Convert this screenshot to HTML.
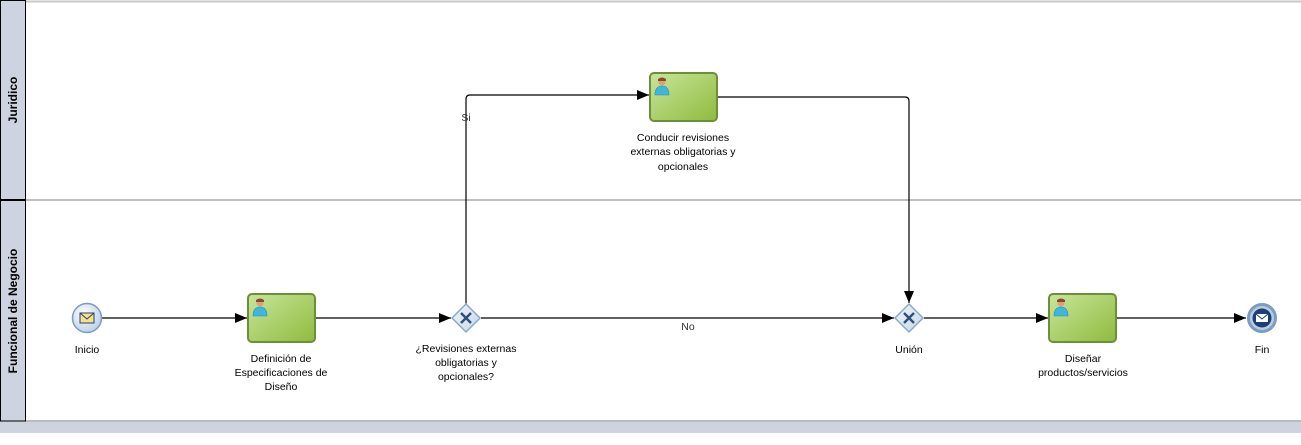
<!DOCTYPE html>
<html><head><meta charset="utf-8"><style>
html,body{margin:0;padding:0;background:#fff;}
svg{display:block;font-family:"Liberation Sans","DejaVu Sans",sans-serif;}
</style></head><body>
<svg width="1301" height="445" viewBox="0 0 1301 445" xmlns="http://www.w3.org/2000/svg">
<defs>
<linearGradient id="tg" x1="0" y1="0" x2="1" y2="1"><stop offset="0" stop-color="#c8e59a"/><stop offset="1" stop-color="#8fbb3e"/></linearGradient>
<radialGradient id="cg" cx="0.4" cy="0.35" r="0.7"><stop offset="0" stop-color="#ffffff"/><stop offset="1" stop-color="#b8cfe6"/></radialGradient>
<linearGradient id="gg" x1="0" y1="0" x2="1" y2="1"><stop offset="0" stop-color="#f0f5f9"/><stop offset="1" stop-color="#c6d8e6"/></linearGradient>
<marker id="ar" viewBox="0 0 12 10" refX="12" refY="5" markerWidth="12" markerHeight="10" markerUnits="userSpaceOnUse" orient="auto"><path d="M0,0 L12,5 L0,10 Z" fill="#000"/></marker>
<g id="user"><circle cx="0" cy="-5" r="3.5" fill="#d9a07a"/><path d="M-4,-8 Q0,-11 4,-8 L4,-6 L-4,-6Z" fill="#8a4a2a"/><path d="M-7,8 Q-7,-1 0,-1 Q7,-1 7,8 Z" fill="#3fb6de" stroke="#2a8bb0" stroke-width="0.6"/></g>
</defs>
<rect x="0" y="0" width="1301" height="445" fill="#fff"/>
<rect x="0" y="421" width="1301" height="12" fill="#cdd3df"/>
<line x1="25" y1="1.5" x2="1301" y2="1.5" stroke="#c8c8c8" stroke-width="2"/>
<line x1="25" y1="200" x2="1301" y2="200" stroke="#c0c0c0" stroke-width="2"/>
<line x1="25" y1="421" x2="1301" y2="421" stroke="#bbbbbb" stroke-width="2"/>
<rect x="0.5" y="0.5" width="25" height="199" fill="#cdd3e0" stroke="#000" stroke-width="1"/>
<rect x="0.5" y="200" width="25" height="221" fill="#cdd3e0" stroke="#000" stroke-width="1"/>
<line x1="0" y1="200" x2="26" y2="200" stroke="#000" stroke-width="2"/>
<text transform="translate(17,100) rotate(-90)" text-anchor="middle" font-size="12" font-weight="bold">Juridico</text>
<text transform="translate(17,311) rotate(-90)" text-anchor="middle" font-size="12" font-weight="bold">Funcional de Negocio</text>
<g stroke="#000" stroke-width="1.2" fill="none">
<line x1="102" y1="318" x2="247" y2="318" marker-end="url(#ar)"/>
<line x1="316" y1="318" x2="451" y2="318" marker-end="url(#ar)"/>
<path d="M466,304 L466,99 Q466,95 470,95 L649,95" marker-end="url(#ar)"/>
<line x1="481" y1="318" x2="894" y2="318" marker-end="url(#ar)"/>
<path d="M718,97 L905,97 Q909,97 909,101 L909,303" marker-end="url(#ar)"/>
<line x1="924" y1="318" x2="1048" y2="318" marker-end="url(#ar)"/>
<line x1="1117" y1="318" x2="1246" y2="318" marker-end="url(#ar)"/>
</g>
<g font-size="10.5" fill="#333" text-anchor="middle">
<text x="466" y="121">Si</text>
<text x="688" y="330">No</text>
</g>
<circle cx="87" cy="318" r="14.5" fill="url(#cg)" stroke="#7d9cc0" stroke-width="1.5"/>
<rect x="80" y="313" width="14" height="10" fill="#f7e08a" stroke="#263f6e"/>
<path d="M80,313 L87,319 L94,313" fill="none" stroke="#263f6e"/>
<g stroke="#6e8f3a" stroke-width="2" fill="url(#tg)">
<rect x="248" y="294" width="67" height="48" rx="4"/>
<rect x="650" y="73" width="67" height="48" rx="4"/>
<rect x="1049" y="294" width="67" height="48" rx="4"/>
</g>
<use href="#user" x="260" y="308"/>
<use href="#user" x="662" y="87"/>
<use href="#user" x="1061" y="308"/>
<g stroke="#8aaac8" stroke-width="1.5" fill="url(#gg)">
<path d="M466,304 L480,318 L466,332 L452,318Z"/>
<path d="M909,304 L923,318 L909,332 L895,318Z"/>
</g>
<g stroke="#2c4f7c" stroke-width="2.4">
<path d="M461,313 L471,323 M471,313 L461,323"/>
<path d="M904,313 L914,323 M914,313 L904,323"/>
</g>
<circle cx="1262" cy="318" r="13.5" fill="#b8cde2" stroke="#7d9cc0" stroke-width="3"/>
<circle cx="1262" cy="318" r="9.5" fill="#1d3f78"/>
<rect x="1256" y="314" width="12" height="8" fill="#fff"/>
<path d="M1256,314 L1262,319 L1268,314" fill="none" stroke="#1d3f78" stroke-width="1"/>
<g font-size="10.5" fill="#000" text-anchor="middle">
<text x="87" y="353">Inicio</text>
<text x="281" y="362">Definición de</text>
<text x="281" y="376">Especificaciones de</text>
<text x="281" y="390">Diseño</text>
<text x="466" y="352">¿Revisiones externas</text>
<text x="466" y="366">obligatorias y</text>
<text x="466" y="380">opcionales?</text>
<text x="683" y="141">Conducir revisiones</text>
<text x="683" y="155">externas obligatorias y</text>
<text x="683" y="170">opcionales</text>
<text x="909" y="353">Unión</text>
<text x="1083" y="362">Diseñar</text>
<text x="1083" y="376">productos/servicios</text>
<text x="1262" y="353">Fin</text>
</g>
</svg>
</body></html>
